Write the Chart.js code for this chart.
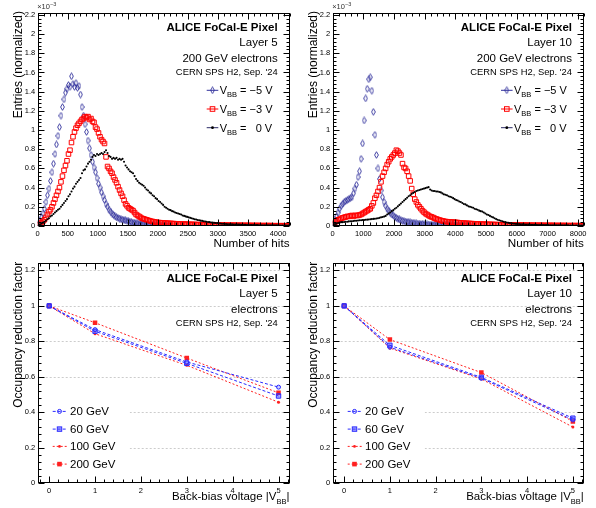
<!DOCTYPE html>
<html lang="en">
<head>
<meta charset="UTF-8">
<title>FoCal-E pixel hits and occupancy</title>
<script src="https://cdn.jsdelivr.net/npm/chart.js"></script>
<style>
  body { margin: 0; background: #fff; }
  #wrap { position: relative; width: 596px; height: 508px; }
  #wrap canvas { position: absolute; }
</style>
</head>
<body>
<div id="wrap">
  <canvas id="hitsL5" width="298" height="254" style="left:0;top:0"></canvas>
  <canvas id="hitsL10" width="301" height="254" style="left:295px;top:0"></canvas>
  <canvas id="occL5" width="298" height="254" style="left:0;top:254px"></canvas>
  <canvas id="occL10" width="301" height="254" style="left:295px;top:254px"></canvas>
</div>
<script>
// ---- data (histogram values in units of 1e-3, one value per bin) ----
const l5BinWidth = 25;
const l10BinWidth = 50;

const l5Minus5V = [
  0.02, 0.05, 0.09, 0.13, 0.18, 0.25, 0.32, 0.39, 0.47, 0.56,
  0.65, 0.75, 0.85, 0.94, 1.03, 1.15, 1.24, 1.32, 1.39, 1.43,
  1.47, 1.45, 1.56, 1.48, 1.45, 1.49, 1.44, 1.46, 1.37, 1.24,
  1.15, 1.06, 0.98, 0.89, 0.81, 0.74, 0.67, 0.61, 0.56, 0.50,
  0.44, 0.40, 0.35, 0.31, 0.27, 0.23, 0.20, 0.17, 0.15, 0.13,
  0.115, 0.10, 0.09, 0.085, 0.078, 0.07, 0.066, 0.062, 0.058, 0.055,
  0.05, 0.045, 0.04, 0.036, 0.032, 0.03, 0.027, 0.025, 0.022, 0.02,
  0.018, 0.016, 0.014, 0.012, 0.011, 0.01, 0.008, 0.007, 0.006, 0.005,
  0.005, 0.004, 0.004, 0.003, 0.003, 0.002, 0.002, 0.002
];
const l5Minus3V = [
  0.01, 0.02, 0.035, 0.05, 0.065, 0.09, 0.12, 0.15, 0.17, 0.20,
  0.24, 0.28, 0.32, 0.36, 0.40, 0.46, 0.52, 0.58, 0.63, 0.68,
  0.75, 0.79, 0.87, 0.93, 0.98, 1.02, 1.05, 1.07, 1.09, 1.11,
  1.12, 1.14, 1.13, 1.14, 1.11, 1.12, 1.09, 1.08, 1.03, 1.01,
  0.97, 0.93, 0.90, 0.88, 0.86, 0.72, 0.62, 0.60, 0.57, 0.55,
  0.51, 0.48, 0.45, 0.41, 0.375, 0.34, 0.31, 0.27, 0.23, 0.21,
  0.19, 0.18, 0.17, 0.16, 0.14, 0.12, 0.11, 0.10, 0.09, 0.08,
  0.075, 0.07, 0.065, 0.06, 0.055, 0.05, 0.047, 0.044, 0.041, 0.038,
  0.036, 0.035, 0.033, 0.032, 0.031, 0.03, 0.029, 0.028, 0.027, 0.026,
  0.025, 0.024, 0.023, 0.022, 0.022, 0.021, 0.020, 0.020, 0.019, 0.018,
  0.018, 0.017, 0.017, 0.016, 0.016, 0.015, 0.015, 0.014, 0.014, 0.013,
  0.013, 0.013, 0.012, 0.012, 0.012, 0.011, 0.011, 0.011, 0.010, 0.010,
  0.010, 0.010, 0.009, 0.009, 0.009, 0.009, 0.008, 0.008, 0.008, 0.008,
  0.008, 0.007, 0.007, 0.007, 0.007, 0.007, 0.006, 0.006, 0.006, 0.006,
  0.006, 0.006, 0.005, 0.005, 0.005, 0.005, 0.005, 0.005, 0.004, 0.004,
  0.004, 0.004, 0.004, 0.004, 0.004, 0.004, 0.003, 0.003, 0.003, 0.003,
  0.003, 0.003, 0.003, 0.003, 0.003, 0.002, 0.002, 0.002
];
const l5Zero = [
  0.005, 0.015, 0.025, 0.035, 0.045, 0.055, 0.07, 0.08, 0.10, 0.11,
  0.125, 0.14, 0.155, 0.17, 0.18, 0.20, 0.22, 0.24, 0.26, 0.28,
  0.31, 0.33, 0.36, 0.39, 0.41, 0.44, 0.46, 0.48, 0.50, 0.55,
  0.58, 0.59, 0.62, 0.65, 0.67, 0.69, 0.72, 0.74, 0.73, 0.75,
  0.74, 0.75, 0.76, 0.75, 0.77, 0.79, 0.76, 0.73, 0.72, 0.70,
  0.71, 0.70, 0.71, 0.69, 0.70, 0.69, 0.70, 0.67, 0.63, 0.61,
  0.59, 0.57, 0.56, 0.55, 0.52, 0.49, 0.47, 0.45, 0.44, 0.43,
  0.42, 0.40, 0.38, 0.37, 0.35, 0.34, 0.32, 0.31, 0.29, 0.28,
  0.26, 0.25, 0.235, 0.22, 0.20, 0.19, 0.18, 0.17, 0.165, 0.155,
  0.15, 0.14, 0.135, 0.13, 0.125, 0.12, 0.11, 0.105, 0.10, 0.095,
  0.09, 0.085, 0.08, 0.075, 0.07, 0.067, 0.063, 0.06, 0.056, 0.053,
  0.05, 0.047, 0.045, 0.042, 0.04, 0.037, 0.035, 0.033, 0.031, 0.03,
  0.028, 0.026, 0.024, 0.023, 0.022, 0.02, 0.019, 0.018, 0.018, 0.017,
  0.016, 0.016, 0.015, 0.014, 0.014, 0.013, 0.013, 0.012, 0.012, 0.011,
  0.011, 0.010, 0.010, 0.010, 0.009, 0.009, 0.009, 0.008, 0.008, 0.008,
  0.008, 0.007, 0.007, 0.007, 0.007, 0.006, 0.006, 0.006, 0.006, 0.006,
  0.005, 0.005, 0.005, 0.005, 0.005, 0.005, 0.004, 0.004
];

const l10Minus5V = [
  0.02, 0.06, 0.10, 0.14, 0.18, 0.21, 0.23, 0.25, 0.26, 0.27,
  0.28, 0.29, 0.30, 0.34, 0.39, 0.43, 0.51, 0.57, 0.70, 0.86,
  1.10, 1.33, 1.43, 1.53, 1.55, 1.41, 1.19, 0.95, 0.74, 0.60,
  0.49, 0.37, 0.30, 0.25, 0.21, 0.18, 0.16, 0.14, 0.12, 0.11,
  0.095, 0.085, 0.075, 0.068, 0.06, 0.055, 0.05, 0.046, 0.042, 0.04,
  0.037, 0.034, 0.031, 0.029, 0.027, 0.025, 0.023, 0.021, 0.02, 0.018,
  0.017, 0.016, 0.015, 0.014, 0.013, 0.012, 0.011, 0.011, 0.010, 0.010,
  0.009, 0.009, 0.008, 0.008, 0.007, 0.007, 0.006, 0.006, 0.006, 0.005,
  0.005, 0.005, 0.004, 0.004, 0.004, 0.003, 0.003, 0.003, 0.002, 0.002
];
const l10Minus3V = [
  0.02, 0.04, 0.055, 0.065, 0.07, 0.08, 0.085, 0.09, 0.095, 0.10,
  0.10, 0.105, 0.11, 0.10, 0.11, 0.11, 0.11, 0.115, 0.12, 0.13,
  0.14, 0.15, 0.16, 0.17, 0.18, 0.21, 0.24, 0.29, 0.32, 0.36,
  0.40, 0.46, 0.52, 0.56, 0.60, 0.64, 0.67, 0.70, 0.72, 0.74,
  0.76, 0.79, 0.78, 0.76, 0.74, 0.65, 0.61, 0.60, 0.57, 0.52,
  0.47, 0.39, 0.33, 0.28, 0.25, 0.22, 0.20, 0.18, 0.16, 0.145,
  0.13, 0.12, 0.11, 0.10, 0.095, 0.088, 0.08, 0.074, 0.068, 0.063,
  0.058, 0.054, 0.05, 0.047, 0.045, 0.043, 0.042, 0.041, 0.040, 0.039,
  0.038, 0.036, 0.034, 0.032, 0.031, 0.030, 0.029, 0.028, 0.027, 0.026,
  0.025, 0.024, 0.023, 0.022, 0.021, 0.021, 0.020, 0.019, 0.019, 0.018,
  0.018, 0.017, 0.017, 0.016, 0.016, 0.015, 0.015, 0.014, 0.014, 0.013,
  0.013, 0.013, 0.012, 0.012, 0.012, 0.011, 0.011, 0.011, 0.010, 0.010,
  0.010, 0.010, 0.009, 0.009, 0.009, 0.009, 0.008, 0.008, 0.008, 0.008,
  0.008, 0.007, 0.007, 0.007, 0.007, 0.007, 0.007, 0.006, 0.006, 0.006,
  0.006, 0.006, 0.006, 0.006, 0.005, 0.005, 0.005, 0.005, 0.005, 0.005,
  0.005, 0.005, 0.004, 0.004, 0.004, 0.004, 0.004, 0.004, 0.004, 0.004,
  0.004, 0.003, 0.003, 0.003
];
const l10Zero = [
  0.01, 0.02, 0.025, 0.03, 0.035, 0.04, 0.04, 0.042, 0.045, 0.045,
  0.048, 0.05, 0.05, 0.052, 0.055, 0.055, 0.057, 0.06, 0.06, 0.062,
  0.063, 0.065, 0.066, 0.068, 0.07, 0.072, 0.074, 0.076, 0.078, 0.08,
  0.085, 0.09, 0.094, 0.098, 0.105, 0.12, 0.13, 0.14, 0.155, 0.165,
  0.18, 0.19, 0.205, 0.22, 0.235, 0.25, 0.265, 0.28, 0.295, 0.31,
  0.32, 0.335, 0.345, 0.355, 0.365, 0.37, 0.375, 0.38, 0.385, 0.39,
  0.395, 0.40, 0.405, 0.38, 0.37, 0.365, 0.365, 0.36, 0.36, 0.355,
  0.35, 0.34, 0.33, 0.325, 0.32, 0.31, 0.305, 0.30, 0.29, 0.28,
  0.27, 0.265, 0.255, 0.25, 0.24, 0.23, 0.225, 0.215, 0.205, 0.20,
  0.195, 0.19, 0.18, 0.175, 0.17, 0.16, 0.155, 0.15, 0.14, 0.13,
  0.12, 0.115, 0.105, 0.097, 0.09, 0.08, 0.072, 0.065, 0.06, 0.055,
  0.05, 0.045, 0.04, 0.036, 0.033, 0.03, 0.028, 0.026, 0.024, 0.022,
  0.021, 0.02, 0.019, 0.018, 0.017, 0.016, 0.015, 0.015, 0.014, 0.013,
  0.013, 0.012, 0.012, 0.011, 0.011, 0.01, 0.01, 0.01, 0.009, 0.009,
  0.009, 0.008, 0.008, 0.008, 0.008, 0.007, 0.007, 0.007, 0.007, 0.006,
  0.006, 0.006, 0.006, 0.006, 0.005, 0.005, 0.005, 0.005, 0.005, 0.005,
  0.005, 0.004, 0.004, 0.004
];

// occupancy reduction factor vs |V_BB|
const voltages = [0, 1, 3, 5];
const l5Occ20 = [1.0, 0.866, 0.684, 0.542];
const l5Occ60 = [1.0, 0.857, 0.676, 0.492];
const l5Occ100 = [1.0, 0.843, 0.665, 0.457];
const l5Occ200 = [1.0, 0.905, 0.706, 0.510];
const l10Occ20 = [1.0, 0.767, 0.592, 0.357];
const l10Occ60 = [1.0, 0.778, 0.597, 0.367];
const l10Occ100 = [1.0, 0.762, 0.588, 0.317];
const l10Occ200 = [1.0, 0.810, 0.624, 0.349];

// tick labels
const histYTicks = [0, 0.2, 0.4, 0.6, 0.8, 1, 1.2, 1.4, 1.6, 1.8, 2, 2.2];
const l5XTicks = [0, 500, 1000, 1500, 2000, 2500, 3000, 3500, 4000];
const l10XTicks = [0, 1000, 2000, 3000, 4000, 5000, 6000, 7000, 8000];
const occYTicks = [0, 0.2, 0.4, 0.6, 0.8, 1, 1.2];
const occXTicks = [0, 1, 2, 3, 4, 5];
const biasNames = ['\u22125 V', '\u22123 V', '  0 V'];
const energyNames = ['20 GeV', '60 GeV', '100 GeV', '200 GeV'];

// ---- styling ----
const FONT = "'Liberation Sans', Arial, Helvetica, sans-serif";
const NAVY = '#30309c';
const RED = '#ff0000';
const BLUE = '#2b2bff';
const LRED = '#ff2020';

function makeDiamond(color) {
  const c = document.createElement('canvas');
  c.width = 5; c.height = 8;
  const g = c.getContext('2d');
  g.strokeStyle = color;
  g.lineWidth = 0.9;
  g.beginPath();
  g.moveTo(2.5, 0.7); g.lineTo(4.4, 4); g.lineTo(2.5, 7.3); g.lineTo(0.6, 4);
  g.closePath();
  g.stroke();
  return c;
}
const navyDiamond = makeDiamond(NAVY);

function binned(values, width) {
  return values.map((v, i) => ({ x: (i + 0.5) * width, y: v }));
}
function paired(xs, ys) {
  return xs.map((x, i) => ({ x: x, y: ys[i] }));
}
function fixedTicks(list) {
  return function (s) { s.ticks = list.map(v => ({ value: v })); };
}

function makeScales(xMin, xMax, xTicks, yMax, yTicks, xHeight) {
  const tickFont = { family: FONT, size: 7.5 };
  return {
    x: {
      type: 'linear', min: xMin, max: xMax,
      grid: { display: false, drawTicks: false }, border: { display: false },
      ticks: { font: tickFont, color: '#000', padding: 3, maxRotation: 0, autoSkip: false, callback: v => String(v) },
      afterBuildTicks: fixedTicks(xTicks),
      afterFit: s => { s.height = xHeight; }
    },
    y: {
      type: 'linear', min: 0, max: yMax,
      grid: { display: false, drawTicks: false }, border: { display: false },
      ticks: { font: tickFont, color: '#000', padding: 2.5, autoSkip: false, callback: v => String(v) },
      afterBuildTicks: fixedTicks(yTicks),
      afterFit: s => { s.width = 37.7; }
    }
  };
}

// ---- per-panel decorations (ROOT-like frame, ticks, texts, legends) ----
const histLegend = [
  { name: biasNames[0], marker: 'diamond', color: NAVY, line: NAVY },
  { name: biasNames[1], marker: 'openSquare', color: RED, line: RED },
  { name: biasNames[2], marker: 'dot', color: '#000', line: '#2a2a66' }
];
const occLegend = [
  { name: energyNames[0], marker: 'openCircle', color: BLUE, dash: [3, 2] },
  { name: energyNames[1], marker: 'blueSquare', color: BLUE, dash: [3, 2] },
  { name: energyNames[2], marker: 'dot', color: LRED, dash: [2, 2] },
  { name: energyNames[3], marker: 'fullSquare', color: LRED, dash: [2, 2] }
];

const panelSpecs = {
  hitsL5: { xMajor: l5XTicks, xStep: 100, yMajor: histYTicks, yStep: 0.04,
    lines: ['ALICE FoCal-E Pixel', 'Layer 5', '200 GeV electrons', "CERN SPS H2, Sep. '24"],
    yTitle: 'Entries (normalized)', xTitle: 'hits', xTitleDy: 20.7, exponent: true, legend: 'bias' },
  hitsL10: { xMajor: l10XTicks, xStep: 200, yMajor: histYTicks, yStep: 0.04,
    lines: ['ALICE FoCal-E Pixel', 'Layer 10', '200 GeV electrons', "CERN SPS H2, Sep. '24"],
    yTitle: 'Entries (normalized)', xTitle: 'hits', xTitleDy: 20.7, exponent: true, legend: 'bias' },
  occL5: { xMajor: occXTicks, xStep: 0.2, yMajor: occYTicks, yStep: 0.04, grid: occYTicks.slice(1),
    lines: ['ALICE FoCal-E Pixel', 'Layer 5', 'electrons', "CERN SPS H2, Sep. '24"],
    yTitle: 'Occupancy reduction factor', xTitle: 'bias', xTitleDy: 16.2, legend: 'energy' },
  occL10: { xMajor: occXTicks, xStep: 0.2, yMajor: occYTicks, yStep: 0.04, grid: occYTicks.slice(1),
    lines: ['ALICE FoCal-E Pixel', 'Layer 10', 'electrons', "CERN SPS H2, Sep. '24"],
    yTitle: 'Occupancy reduction factor', xTitle: 'bias', xTitleDy: 16.2, legend: 'energy' }
};

function drawRuns(ctx, parts, x, y, align) {
  let w = 0;
  parts.forEach(p => { ctx.font = p.f; w += ctx.measureText(p.t).width; });
  let cx = align === 'right' ? x - w : x;
  ctx.textAlign = 'left';
  parts.forEach(p => {
    ctx.font = p.f;
    ctx.fillText(p.t, cx, y + (p.dy || 0));
    cx += ctx.measureText(p.t).width;
  });
}

function drawMarker(ctx, kind, x, y, color) {
  ctx.setLineDash([]);
  ctx.lineWidth = 1;
  ctx.strokeStyle = color;
  ctx.fillStyle = color;
  if (kind === 'diamond') {
    ctx.drawImage(navyDiamond, x - 2.5, y - 4);
  } else if (kind === 'openSquare') {
    ctx.strokeRect(x - 2.3, y - 2.3, 4.6, 4.6);
  } else if (kind === 'dot') {
    ctx.beginPath(); ctx.arc(x, y, 1.4, 0, Math.PI * 2); ctx.fill();
  } else if (kind === 'openCircle') {
    ctx.beginPath(); ctx.arc(x, y, 2, 0, Math.PI * 2); ctx.stroke();
  } else if (kind === 'blueSquare') {
    ctx.fillStyle = 'rgba(60,60,255,0.45)';
    ctx.fillRect(x - 2.2, y - 2.2, 4.4, 4.4);
    ctx.strokeRect(x - 2.2, y - 2.2, 4.4, 4.4);
  } else if (kind === 'fullSquare') {
    ctx.fillRect(x - 2.3, y - 2.3, 4.6, 4.6);
  }
}

function drawAxisTicks(ctx, scale, major, step, horizontal, a) {
  const n0 = Math.ceil(scale.min / step - 1e-6);
  const n1 = Math.floor(scale.max / step + 1e-6);
  ctx.beginPath();
  for (let k = n0; k <= n1; k++) {
    const v = k * step;
    const len = major.some(m => Math.abs(m - v) < step / 10) ? 6 : 3;
    const p = Math.round(scale.getPixelForValue(v)) + 0.5;
    if (horizontal) {
      ctx.moveTo(p, a.bottom); ctx.lineTo(p, a.bottom - len);
      ctx.moveTo(p, a.top); ctx.lineTo(p, a.top + len);
    } else {
      ctx.moveTo(a.left, p); ctx.lineTo(a.left + len, p);
      ctx.moveTo(a.right, p); ctx.lineTo(a.right - len, p);
    }
  }
  ctx.stroke();
}

const rootFrame = {
  id: 'rootFrame',
  beforeDatasetsDraw(chart) {
    const spec = panelSpecs[chart.canvas.id];
    if (!spec.grid) return;
    const { ctx, chartArea: a, scales: { y } } = chart;
    ctx.save();
    ctx.strokeStyle = '#cccccc';
    ctx.lineWidth = 1;
    ctx.setLineDash([2, 2]);
    spec.grid.forEach(v => {
      const py = Math.round(y.getPixelForValue(v)) + 0.5;
      ctx.beginPath(); ctx.moveTo(a.left, py); ctx.lineTo(a.right, py); ctx.stroke();
    });
    ctx.restore();
  },
  afterDatasetsDraw(chart) {
    const spec = panelSpecs[chart.canvas.id];
    const { ctx, chartArea: a, scales: { x, y } } = chart;
    ctx.save();
    ctx.fillStyle = '#000';
    ctx.textBaseline = 'alphabetic';

    // legend
    if (spec.legend === 'bias') {
      const rows = [81.8, 100.5, 119.2];
      histLegend.forEach((e, i) => {
        const by = a.top + rows[i];
        const my = by - 4;
        ctx.setLineDash([]);
        ctx.strokeStyle = e.line; ctx.lineWidth = 1;
        ctx.beginPath(); ctx.moveTo(a.right - 83.3, my); ctx.lineTo(a.right - 71.7, my); ctx.stroke();
        drawMarker(ctx, e.marker, a.right - 77.5, my, e.color);
        ctx.fillStyle = '#000';
        drawRuns(ctx, [
          { t: 'V', f: '11px ' + FONT },
          { t: 'BB', f: '7.5px ' + FONT, dy: 3 },
          { t: ' = ' + e.name, f: '11px ' + FONT }
        ], a.right - 70.3, by, 'left');
      });
    } else {
      ctx.fillStyle = '#fff';
      ctx.fillRect(a.left + 2, a.bottom - 84, 90, 76);
      const rows = [-68.3, -50.6, -33.3, -15.6];
      occLegend.forEach((e, i) => {
        const by = a.bottom + rows[i];
        const my = by - 3.6;
        ctx.setLineDash(e.dash);
        ctx.strokeStyle = e.color; ctx.lineWidth = 1;
        ctx.beginPath(); ctx.moveTo(a.left + 15, my); ctx.lineTo(a.left + 29, my); ctx.stroke();
        drawMarker(ctx, e.marker, a.left + 21.8, my, e.color);
        ctx.fillStyle = '#000';
        drawRuns(ctx, [{ t: e.name, f: '11.5px ' + FONT }], a.left + 32.3, by, 'left');
      });
    }

    // frame and ROOT style ticks on all four sides
    ctx.setLineDash([]);
    ctx.strokeStyle = '#000';
    ctx.lineWidth = 1;
    const fl = Math.round(a.left) + 0.5, fr = Math.round(a.right) - 0.5;
    const ft = Math.round(a.top) + 0.5, fb = Math.round(a.bottom) - 0.5;
    ctx.strokeRect(fl, ft, fr - fl, fb - ft);
    const box = { left: fl, right: fr, top: ft, bottom: fb };
    drawAxisTicks(ctx, x, spec.xMajor, spec.xStep, true, box);
    drawAxisTicks(ctx, y, spec.yMajor, spec.yStep, false, box);

    // text block
    ctx.fillStyle = '#000';
    const tOff = [18.3, 33.9, 49.4, 62.4];
    const tFont = ['bold 11.5px ', '11.5px ', '11.5px ', '9.4px '];
    spec.lines.forEach((s, i) => {
      drawRuns(ctx, [{ t: s, f: tFont[i] + FONT }], a.right - 12.3, a.top + tOff[i], 'right');
    });

    // x title
    if (spec.xTitle === 'hits') {
      drawRuns(ctx, [{ t: 'Number of hits', f: '11.7px ' + FONT }], a.right - 0.5, a.bottom + spec.xTitleDy, 'right');
    } else {
      drawRuns(ctx, [
        { t: 'Back-bias voltage |V', f: '11.5px ' + FONT },
        { t: 'BB', f: '7.5px ' + FONT, dy: 4 },
        { t: '|', f: '11.5px ' + FONT }
      ], a.right - 0.5, a.bottom + spec.xTitleDy, 'right');
    }

    // y title (rotated, aligned to the top of the frame)
    ctx.save();
    ctx.translate(21.5, a.top - 1.5);
    ctx.rotate(-Math.PI / 2);
    ctx.font = '12px ' + FONT;
    ctx.textAlign = 'right';
    ctx.fillText(spec.yTitle, 0, 0);
    ctx.restore();

    // exponent of the y axis
    if (spec.exponent) {
      ctx.fillStyle = '#333';
      drawRuns(ctx, [
        { t: '\u00d710', f: '7.5px ' + FONT },
        { t: '\u22123', f: '5.5px ' + FONT, dy: -3.5 }
      ], a.left - 0.5, 9, 'left');
    }
    ctx.restore();
  }
};

function baseOptions(scales, pad) {
  return {
    responsive: false,
    maintainAspectRatio: false,
    animation: false,
    devicePixelRatio: 1,
    events: [],
    layout: { padding: pad },
    plugins: { legend: { display: false }, tooltip: { enabled: false } },
    scales: scales
  };
}

function histChart(id, binWidth, blue, red, black, xMax, xTicks, padRight) {
  new Chart(document.getElementById(id), {
    type: 'scatter',
    data: {
      datasets: [
        { label: 'VBB = -5 V', data: binned(blue, binWidth), order: 2,
          pointStyle: navyDiamond, pointRadius: 2.5, showLine: false },
        { label: 'VBB = -3 V', data: binned(red, binWidth), order: 1,
          pointStyle: 'rect', pointRadius: 3.2, pointBorderWidth: 1,
          pointBorderColor: RED, pointBackgroundColor: 'rgba(0,0,0,0)', showLine: false },
        { label: 'VBB = 0 V', data: binned(black, binWidth), order: 0,
          pointStyle: 'circle', pointRadius: 1.05, pointBorderWidth: 0,
          pointBackgroundColor: '#000', showLine: false }
      ]
    },
    options: baseOptions(makeScales(0, xMax, xTicks, 2.225, histYTicks, 28),
      { left: 0, right: padRight, top: 12.5, bottom: 0 }),
    plugins: [rootFrame]
  });
}

function occChart(id, s20, s60, s100, s200, padRight) {
  const common = { borderWidth: 1, fill: false, tension: 0 };
  new Chart(document.getElementById(id), {
    type: 'line',
    data: {
      datasets: [
        Object.assign({ label: '20 GeV', data: paired(voltages, s20), borderColor: BLUE, borderDash: [3, 2],
          pointStyle: 'circle', pointRadius: 2, pointBorderColor: BLUE, pointBackgroundColor: 'rgba(120,120,255,0.35)' }, common),
        Object.assign({ label: '60 GeV', data: paired(voltages, s60), borderColor: BLUE, borderDash: [3, 2],
          pointStyle: 'rect', pointRadius: 3.1, pointBorderColor: BLUE, pointBackgroundColor: 'rgba(60,60,255,0.45)' }, common),
        Object.assign({ label: '100 GeV', data: paired(voltages, s100), borderColor: LRED, borderDash: [2, 2],
          pointStyle: 'circle', pointRadius: 1.5, pointBorderWidth: 0, pointBackgroundColor: LRED }, common),
        Object.assign({ label: '200 GeV', data: paired(voltages, s200), borderColor: LRED, borderDash: [2, 2],
          pointStyle: 'rect', pointRadius: 3.2, pointBorderWidth: 0, pointBackgroundColor: LRED }, common)
      ]
    },
    options: baseOptions(makeScales(-0.25, 5.25, occXTicks, 1.24, occYTicks, 24.7),
      { left: 0, right: padRight, top: 9.3, bottom: 0 }),
    plugins: [rootFrame]
  });
}

histChart('hitsL5', l5BinWidth, l5Minus5V, l5Minus3V, l5Zero, 4200, l5XTicks, 8);
histChart('hitsL10', l10BinWidth, l10Minus5V, l10Minus3V, l10Zero, 8200, l10XTicks, 11.7);
occChart('occL5', l5Occ20, l5Occ60, l5Occ100, l5Occ200, 8);
occChart('occL10', l10Occ20, l10Occ60, l10Occ100, l10Occ200, 11.7);
</script>
</body>
</html>
